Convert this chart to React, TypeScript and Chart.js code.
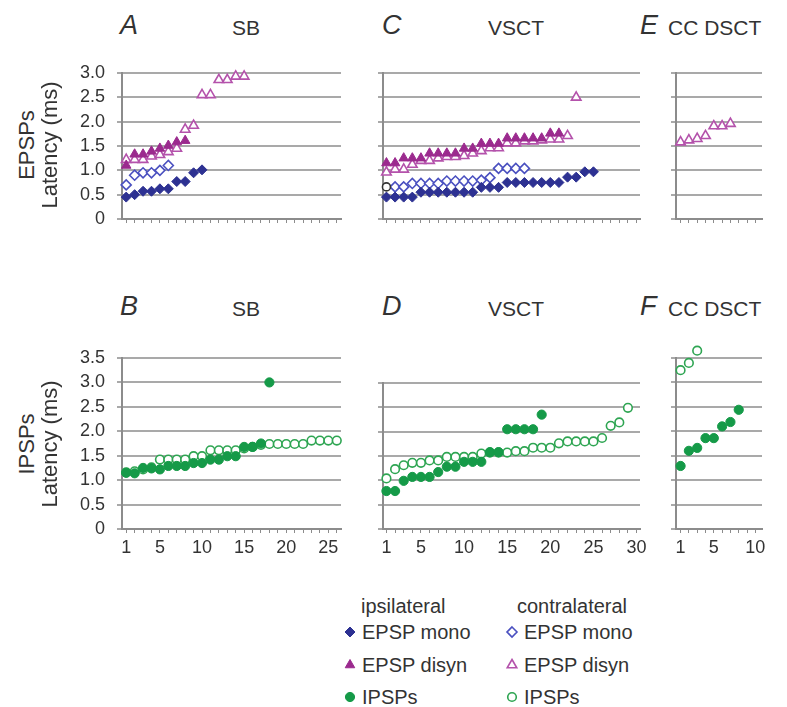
import React, { useEffect, useRef } from 'react';
import { Chart, registerables } from 'chart.js';

Chart.register(...registerables);

const FONT = '"Liberation Sans", Arial, Helvetica, sans-serif';
const TEXT = '#333333';
const AXIS = '#8c8c8c';
const GRID = '#a9a9a9';

// ---------------- data (latency, ms; x = cell rank) ----------------
// Panel A – SB EPSPs
const A_ipsiMono = [0.45, 0.5, 0.57, 0.57, 0.62, 0.62, 0.77, 0.77, 0.95, 1.01];
const A_contraMono = [0.7, 0.9, 0.95, 0.95, 1.0, 1.1];
const A_ipsiDisyn = [1.1, 1.33, 1.33, 1.39, 1.45, 1.51, 1.58, 1.61];
const A_contraDisyn = [1.22, 1.22, 1.22, 1.29, 1.32, 1.38, 1.45, 1.84, 1.92, 2.55, 2.55, 2.86, 2.86, 2.93, 2.93];

// Panel C – VSCT EPSPs
const C_ipsiMono = [0.45, 0.45, 0.45, 0.45, 0.55, 0.55, 0.55, 0.55, 0.55, 0.55, 0.55, 0.65, 0.65, 0.65, 0.75, 0.75, 0.75, 0.75, 0.75, 0.75, 0.75, 0.86, 0.86, 0.97, 0.97];
const C_unclassified = [0.66];
const C_contraMono = [0.66, 0.66, 0.73, 0.73, 0.73, 0.73, 0.78, 0.78, 0.78, 0.78, 0.8, 0.85, 1.04, 1.04, 1.04, 1.04];
const C_ipsiDisyn = [1.15, 1.15, 1.25, 1.25, 1.25, 1.35, 1.35, 1.35, 1.35, 1.45, 1.45, 1.55, 1.55, 1.55, 1.66, 1.66, 1.66, 1.66, 1.66, 1.76, 1.76];
const C_contraDisyn = [0.96, 1.02, 1.02, 1.12, 1.2, 1.2, 1.25, 1.28, 1.28, 1.3, 1.35, 1.4, 1.46, 1.46, 1.56, 1.56, 1.6, 1.6, 1.62, 1.64, 1.64, 1.71, 2.5];

// Panel E – CC DSCT EPSPs
const E_contraDisyn = [1.58, 1.62, 1.65, 1.71, 1.91, 1.91, 1.96];

// Panel B – SB IPSPs
const B_ipsiIPSP = [1.15, 1.14, 1.25, 1.24, 1.22, 1.29, 1.29, 1.29, 1.35, 1.35, 1.42, 1.42, 1.49, 1.49, 1.68, 1.68, 1.75, 3.0];
const B_contraIPSP = [1.16, 1.18, 1.22, 1.26, 1.42, 1.42, 1.42, 1.42, 1.49, 1.49, 1.61, 1.61, 1.61, 1.61, 1.65, 1.68, 1.72, 1.74, 1.74, 1.74, 1.74, 1.74, 1.81, 1.81, 1.81, 1.81];

// Panel D – VSCT IPSPs
const D_ipsiIPSP = [0.78, 0.78, 0.99, 1.07, 1.07, 1.07, 1.17, 1.28, 1.28, 1.38, 1.38, 1.38, 1.58, 1.58, 2.05, 2.05, 2.05, 2.05, 2.35];
const D_contraIPSP = [1.04, 1.23, 1.31, 1.36, 1.36, 1.41, 1.41, 1.48, 1.48, 1.48, 1.48, 1.55, 1.57, 1.57, 1.57, 1.6, 1.6, 1.67, 1.67, 1.67, 1.76, 1.8, 1.8, 1.8, 1.8, 1.87, 2.12, 2.19, 2.49];

// Panel F – CC DSCT IPSPs
const F_ipsiIPSP = [1.29, 1.6, 1.66, 1.86, 1.86, 2.1, 2.19, 2.44];
const F_contraIPSP = [3.25, 3.4, 3.65];

// tick labels
const X_LABELS_SB = [1, 5, 10, 15, 20, 25];
const X_LABELS_VSCT = [1, 5, 10, 15, 20, 25, 30];
const X_LABELS_DSCT = [1, 5, 10];

// ---------------- styles ----------------
type StyleKey = 'ipsiMono' | 'contraMono' | 'ipsiDisyn' | 'contraDisyn' | 'ipsiIPSP' | 'contraIPSP' | 'unclassified';

const MARK: Record<StyleKey, { style: any; r: number; fill: string; stroke: string; bw: number }> = {
  ipsiMono: { style: 'rectRot', r: 5, fill: '#2d3192', stroke: '#2d3192', bw: 1 },
  contraMono: { style: 'rectRot', r: 5, fill: '#ffffff', stroke: '#4a50c0', bw: 1.6 },
  ipsiDisyn: { style: 'triangle', r: 5.5, fill: '#9b2a8e', stroke: '#9b2a8e', bw: 1 },
  contraDisyn: { style: 'triangle', r: 5.5, fill: '#ffffff', stroke: '#b452ab', bw: 1.6 },
  ipsiIPSP: { style: 'circle', r: 4.6, fill: '#159a48', stroke: '#159a48', bw: 1 },
  contraIPSP: { style: 'circle', r: 4.3, fill: '#ffffff', stroke: '#2ea552', bw: 1.6 },
  unclassified: { style: 'circle', r: 4, fill: '#ffffff', stroke: '#333333', bw: 1.6 },
};

type Series = { key: StyleKey; values: number[]; firstX: number };

type Panel = {
  id: string;
  left: number; top: number; width: number; height: number;
  yw: number; xh: number; padTop: number; padRight: number;
  xMin: number; xMax: number; xLabels: number[] | null;
  yMax: number; yLabels: boolean;
  series: Series[];
};

const PANELS: Panel[] = [
  {
    id: 'A', left: 60, top: 60, width: 293, height: 167, yw: 62, xh: 8, padTop: 13, padRight: 12,
    xMin: 0.5, xMax: 26.5, xLabels: null, yMax: 3, yLabels: true,
    series: [
      { key: 'ipsiMono', values: A_ipsiMono, firstX: 1 },
      { key: 'ipsiDisyn', values: A_ipsiDisyn, firstX: 1 },
      { key: 'contraMono', values: A_contraMono, firstX: 1 },
      { key: 'contraDisyn', values: A_contraDisyn, firstX: 1 },
    ],
  },
  {
    id: 'C', left: 370, top: 60, width: 282, height: 167, yw: 13, xh: 8, padTop: 13, padRight: 12,
    xMin: 0.6, xMax: 30.4, xLabels: null, yMax: 3, yLabels: false,
    series: [
      { key: 'ipsiMono', values: C_ipsiMono, firstX: 1 },
      { key: 'ipsiDisyn', values: C_ipsiDisyn, firstX: 1 },
      { key: 'unclassified', values: C_unclassified, firstX: 1 },
      { key: 'contraMono', values: C_contraMono, firstX: 2 },
      { key: 'contraDisyn', values: C_contraDisyn, firstX: 1 },
    ],
  },
  {
    id: 'E', left: 663, top: 60, width: 111, height: 167, yw: 13, xh: 8, padTop: 13, padRight: 12,
    xMin: 0.45, xMax: 10.8, xLabels: null, yMax: 3, yLabels: false,
    series: [{ key: 'contraDisyn', values: E_contraDisyn, firstX: 1 }],
  },
  {
    id: 'B', left: 60, top: 340, width: 293, height: 219, yw: 62, xh: 30, padTop: 18, padRight: 12,
    xMin: 0.5, xMax: 26.5, xLabels: X_LABELS_SB, yMax: 3.5, yLabels: true,
    series: [
      { key: 'ipsiIPSP', values: B_ipsiIPSP, firstX: 1 },
      { key: 'contraIPSP', values: B_contraIPSP, firstX: 1 },
    ],
  },
  {
    id: 'D', left: 370, top: 340, width: 282, height: 219, yw: 13, xh: 30, padTop: 43, padRight: 12,
    xMin: 0.6, xMax: 30.4, xLabels: X_LABELS_VSCT, yMax: 3, yLabels: false,
    series: [
      { key: 'ipsiIPSP', values: D_ipsiIPSP, firstX: 1 },
      { key: 'contraIPSP', values: D_contraIPSP, firstX: 1 },
    ],
  },
  {
    id: 'F', left: 663, top: 340, width: 111, height: 219, yw: 13, xh: 30, padTop: 18, padRight: 12,
    xMin: 0.45, xMax: 10.8, xLabels: X_LABELS_DSCT, yMax: 3.5, yLabels: false,
    series: [
      { key: 'ipsiIPSP', values: F_ipsiIPSP, firstX: 1 },
      { key: 'contraIPSP', values: F_contraIPSP, firstX: 1 },
    ],
  },
];

function zeroPadding(ax: any) {
  ax.paddingTop = 0;
  ax.paddingBottom = 0;
  ax.paddingLeft = 0;
  ax.paddingRight = 0;
}

function PanelChart({ p }: { p: Panel }) {
  const ref = useRef<HTMLCanvasElement>(null);
  useEffect(() => {
    if (!ref.current) return;
    const xs: number[] = [];
    for (let v = 1; v <= Math.floor(p.xMax); v++) xs.push(v);
    const ys: number[] = [];
    for (let i = 0; i * 0.5 <= p.yMax + 1e-9; i++) ys.push(i * 0.5);
    const chart = new Chart(ref.current, {
      type: 'scatter',
      data: {
        datasets: p.series.map((s) => ({
          data: s.values.map((y, i) => ({ x: s.firstX + i, y })),
          pointStyle: MARK[s.key].style,
          pointRadius: MARK[s.key].r,
          // larger hit radius keeps markers just above the top gridline (panel F) drawn
          pointHoverRadius: 12,
          pointBackgroundColor: MARK[s.key].fill,
          pointBorderColor: MARK[s.key].stroke,
          pointBorderWidth: MARK[s.key].bw,
          clip: false as any,
        })),
      },
      options: {
        animation: false,
        responsive: false,
        events: [],
        layout: { autoPadding: false, padding: { top: p.padTop, right: p.padRight, left: 0, bottom: 0 } },
        plugins: { legend: { display: false }, tooltip: { enabled: false } },
        scales: {
          x: {
            type: 'linear',
            min: p.xMin,
            max: p.xMax,
            afterBuildTicks: (ax: any) => { ax.ticks = xs.map((v) => ({ value: v })); },
            afterFit: (ax: any) => { ax.height = p.xh; zeroPadding(ax); },
            grid: { display: true, drawOnChartArea: false, drawTicks: true, tickLength: 4, color: AXIS, lineWidth: 1 },
            border: { display: true, color: AXIS, width: 2 },
            ticks: {
              display: !!p.xLabels,
              autoSkip: false,
              maxRotation: 0,
              minRotation: 0,
              padding: 4,
              color: TEXT,
              font: { family: FONT, size: 18 },
              callback: (v: any) => (p.xLabels && p.xLabels.includes(Number(v)) ? String(v) : ''),
            },
          },
          y: {
            type: 'linear',
            min: 0,
            max: p.yMax,
            afterBuildTicks: (ax: any) => { ax.ticks = ys.map((v) => ({ value: v })); },
            afterFit: (ax: any) => { ax.width = p.yw; zeroPadding(ax); },
            grid: { display: true, drawOnChartArea: true, drawTicks: true, tickLength: 5, color: GRID, lineWidth: 2, tickColor: AXIS, tickWidth: 1.5 },
            border: { display: true, color: AXIS, width: 2 },
            ticks: {
              display: p.yLabels,
              autoSkip: false,
              padding: 12,
              color: TEXT,
              font: { family: FONT, size: 18 },
              callback: (v: any) => (Number(v) === 0 ? '0' : Number(v).toFixed(1)),
            },
          },
        },
      },
    });
    return () => chart.destroy();
  }, [p]);
  return (
    <canvas
      ref={ref}
      width={p.width}
      height={p.height}
      style={{ position: 'absolute', left: p.left, top: p.top, width: p.width, height: p.height }}
    />
  );
}

function Txt({ x, y, size, italic, children }: { x: number; y: number; size: number; italic?: boolean; children: React.ReactNode }) {
  return (
    <div
      style={{
        position: 'absolute', left: x, top: y, transform: 'translateY(-50%)',
        fontFamily: FONT, fontSize: size, lineHeight: 1, fontStyle: italic ? 'italic' : 'normal',
        color: TEXT, whiteSpace: 'nowrap',
      }}
    >
      {children}
    </div>
  );
}

function VTxt({ x, y, size, children }: { x: number; y: number; size: number; children: React.ReactNode }) {
  return (
    <div
      style={{
        position: 'absolute', left: x, top: y, transform: 'translate(-50%, -50%) rotate(-90deg)',
        fontFamily: FONT, fontSize: size, lineHeight: 1, color: TEXT, whiteSpace: 'nowrap',
      }}
    >
      {children}
    </div>
  );
}

function Marker({ k, cx, cy }: { k: StyleKey; cx: number; cy: number }) {
  const m = MARK[k];
  const s = 14;
  const c = s / 2;
  let shape: React.ReactNode = null;
  if (m.style === 'rectRot') {
    const r = 5;
    shape = <polygon points={`${c},${c - r} ${c + r},${c} ${c},${c + r} ${c - r},${c}`} fill={m.fill} stroke={m.stroke} strokeWidth={m.bw} />;
  } else if (m.style === 'triangle') {
    const r = 5.5;
    const h = r * Math.sin(Math.PI / 3);
    shape = <polygon points={`${c},${c - r} ${c + h},${c + r / 2} ${c - h},${c + r / 2}`} fill={m.fill} stroke={m.stroke} strokeWidth={m.bw} />;
  } else {
    shape = <circle cx={c} cy={c} r={m.r} fill={m.fill} stroke={m.stroke} strokeWidth={m.bw} />;
  }
  return (
    <svg width={s} height={s} style={{ position: 'absolute', left: cx - c, top: cy - c }}>
      {shape}
    </svg>
  );
}

const TITLES = [
  { letter: 'A', name: 'SB', lx: 120, nx: 232, cy: 25 },
  { letter: 'C', name: 'VSCT', lx: 382, nx: 488, cy: 25 },
  { letter: 'E', name: 'CC DSCT', lx: 640, nx: 668, cy: 25 },
  { letter: 'B', name: 'SB', lx: 120, nx: 232, cy: 306 },
  { letter: 'D', name: 'VSCT', lx: 382, nx: 488, cy: 306 },
  { letter: 'F', name: 'CC DSCT', lx: 640, nx: 668, cy: 306 },
];

const LEGEND_ROWS: { ipsi: StyleKey; contra: StyleKey; label: string; cy: number }[] = [
  { ipsi: 'ipsiMono', contra: 'contraMono', label: 'EPSP mono', cy: 632 },
  { ipsi: 'ipsiDisyn', contra: 'contraDisyn', label: 'EPSP disyn', cy: 665 },
  { ipsi: 'ipsiIPSP', contra: 'contraIPSP', label: 'IPSPs', cy: 697 },
];

export default function App() {
  return (
    <div style={{ position: 'absolute', left: 0, top: 0, width: 787, height: 707, background: '#ffffff', overflow: 'hidden' }}>
      {PANELS.map((p) => (
        <PanelChart key={p.id} p={p} />
      ))}
      {TITLES.map((t) => (
        <React.Fragment key={t.letter}>
          <Txt x={t.lx} y={t.cy} size={27} italic>{t.letter}</Txt>
          <Txt x={t.nx} y={t.cy + 2} size={21}>{t.name}</Txt>
        </React.Fragment>
      ))}
      <VTxt x={27} y={145} size={22}>EPSPs</VTxt>
      <VTxt x={50} y={145} size={22}>Latency (ms)</VTxt>
      <VTxt x={27} y={444} size={22}>IPSPs</VTxt>
      <VTxt x={50} y={444} size={22}>Latency (ms)</VTxt>

      <Txt x={361} y={606} size={20}>ipsilateral</Txt>
      <Txt x={517} y={606} size={20}>contralateral</Txt>
      {LEGEND_ROWS.map((r) => (
        <React.Fragment key={r.label}>
          <Marker k={r.ipsi} cx={350} cy={r.cy} />
          <Txt x={362} y={r.cy} size={20}>{r.label}</Txt>
          <Marker k={r.contra} cx={512} cy={r.cy} />
          <Txt x={524} y={r.cy} size={20}>{r.label}</Txt>
        </React.Fragment>
      ))}
    </div>
  );
}
